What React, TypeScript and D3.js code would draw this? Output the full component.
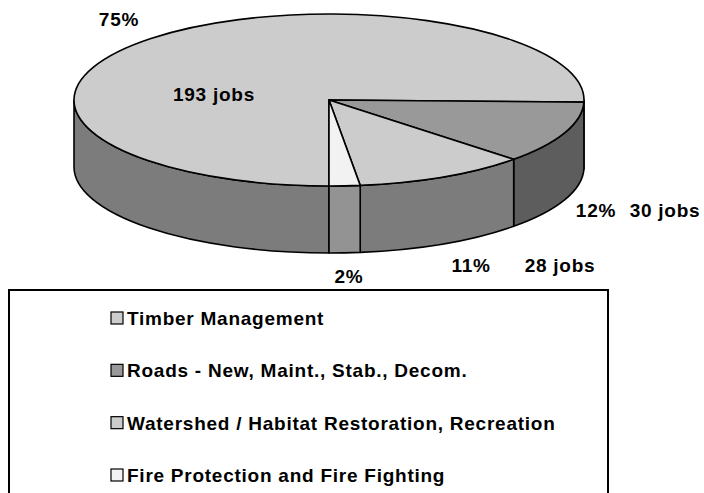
import React, { useEffect, useRef } from "react";
import * as d3 from "d3";

// data
const categories = [
  "Timber Management",
  "Roads - New, Maint., Stab., Decom.",
  "Watershed / Habitat Restoration, Recreation",
  "Fire Protection and Fire Fighting",
];
const jobs = [193, 30, 28, 5];
const percentLabels = ["75%", "12%", "11%", "2%"];
const jobLabels = ["193 jobs", "30 jobs", "28 jobs", ""];
const topColors = ["#cccccc", "#999999", "#cccccc", "#f2f2f2"];

const W = 704;
const H = 493;

// manual label spots (Excel moved them by hand)
const pctPos = [
  [119, 26],
  [596, 217],
  [471, 272],
  [349, 283],
];
const jobPos = [
  [214, 101],
  [665, 217],
  [560, 272],
  [0, 0],
];

const App = () => {
  const ref = useRef<SVGSVGElement | null>(null);

  useEffect(() => {
    const svg = d3.select(ref.current);
    svg.selectAll("*").remove();

    const cx = 329;
    const cy = 100;
    const rx = 255;
    const ry = 86;
    const depth = 67;
    const font = "'Liberation Sans', Arial, sans-serif";
    const fs = 19;
    const ls = 0.75;

    const pie = d3
      .pie<number>()
      .value((d) => d)
      .sort(null)
      .startAngle(Math.PI)
      .endAngle(3 * Math.PI);
    const arcs = pie(jobs);

    const pt = (a: number, dy = 0) => [cx + rx * Math.sin(a), cy - ry * Math.cos(a) + dy];

    const g = svg.append("g");

    // side walls, only the front half shows
    arcs.forEach((d, i) => {
      for (let k = 0; k < 2; k++) {
        const lo = Math.max(d.startAngle, Math.PI / 2 + 2 * Math.PI * k);
        const hi = Math.min(d.endAngle, (3 * Math.PI) / 2 + 2 * Math.PI * k);
        if (hi <= lo) continue;
        const a = pt(lo);
        const b = pt(hi);
        const b2 = pt(hi, depth);
        const a2 = pt(lo, depth);
        const large = hi - lo > Math.PI ? 1 : 0;
        const p =
          `M${a[0]},${a[1]} A${rx},${ry} 0 ${large} 1 ${b[0]},${b[1]}` +
          ` L${b2[0]},${b2[1]} A${rx},${ry} 0 ${large} 0 ${a2[0]},${a2[1]} Z`;
        g.append("path")
          .attr("d", p)
          .attr("fill", d3.color(topColors[i])!.darker(1.4).formatHex())
          .attr("stroke", "#000")
          .attr("stroke-width", 1.6)
          .attr("stroke-linejoin", "round");
      }
    });

    // top faces
    arcs.forEach((d, i) => {
      const a = pt(d.startAngle);
      const b = pt(d.endAngle);
      const large = d.endAngle - d.startAngle > Math.PI ? 1 : 0;
      g.append("path")
        .attr(
          "d",
          `M${cx},${cy} L${a[0]},${a[1]} A${rx},${ry} 0 ${large} 1 ${b[0]},${b[1]} Z`
        )
        .attr("fill", topColors[i])
        .attr("stroke", "#000")
        .attr("stroke-width", 1.6)
        .attr("stroke-linejoin", "round");
    });

    const labelStyle = (sel: any) =>
      sel
        .attr("font-family", font)
        .attr("font-weight", "bold")
        .attr("font-size", fs)
        .attr("letter-spacing", ls)
        .attr("text-anchor", "middle")
        .attr("fill", "#000");

    arcs.forEach((d, i) => {
      labelStyle(g.append("text"))
        .attr("x", pctPos[i][0])
        .attr("y", pctPos[i][1])
        .text(percentLabels[i]);
      if (jobLabels[i]) {
        labelStyle(g.append("text"))
          .attr("x", jobPos[i][0])
          .attr("y", jobPos[i][1])
          .text(jobLabels[i]);
      }
    });

    // legend
    const lg = svg.append("g");
    lg.append("rect")
      .attr("x", 9)
      .attr("y", 290)
      .attr("width", 599)
      .attr("height", 240)
      .attr("fill", "#fff")
      .attr("stroke", "#000")
      .attr("stroke-width", 2);

    const rowY = d3
      .scalePoint<string>()
      .domain(categories)
      .range([318, 475]);

    categories.forEach((c, i) => {
      const y = rowY(c)!;
      lg.append("rect")
        .attr("x", 111)
        .attr("y", y - 6)
        .attr("width", 12)
        .attr("height", 12)
        .attr("fill", topColors[i])
        .attr("stroke", "#000")
        .attr("stroke-width", 1.2);
      lg.append("text")
        .attr("x", 127)
        .attr("y", y + 7)
        .attr("font-family", font)
        .attr("font-weight", "bold")
        .attr("font-size", fs)
        .attr("letter-spacing", ls)
        .attr("fill", "#000")
        .text(c);
    });
  }, []);

  return (
    <svg
      ref={ref}
      width={W}
      height={H}
      style={{ position: "absolute", left: 0, top: 0, background: "#fff" }}
    />
  );
};

export default App;
